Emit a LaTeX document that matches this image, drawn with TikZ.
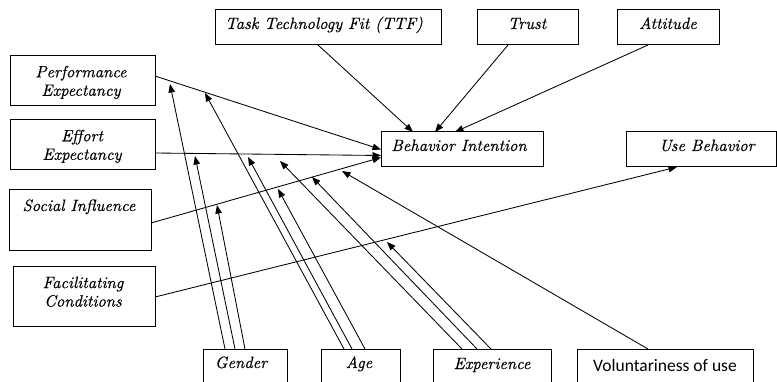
\documentclass[tikz,border=0pt]{standalone}
\usepackage{fontspec}
\newfontfamily\lmten{lmroman10}[Extension=.otf, UprightFont=*-regular, ItalicFont=*-italic, BoldFont=*-bold, ItalicFeatures={FakeBold=0.4}]
\newfontfamily\volfont{Carlito}
\usetikzlibrary{arrows.meta,calc}
\begin{document}
\begin{tikzpicture}[x=1pt,y=-1pt,
  box/.style={draw, line width=1pt, anchor=north west, inner sep=0pt, outer sep=0pt},
  lbl/.style={font=\fontsize{16.4}{18.5}\selectfont\lmten\itshape, inner sep=0pt, anchor=base},
  lbltwo/.style={font=\fontsize{16.4}{18.5}\selectfont\lmten\itshape, inner sep=0pt, align=center, anchor=north},
  conn/.style={line width=0.85pt, -{Triangle[length=8.5pt,width=6.5pt]}}]
\path[use as bounding box] (0,0) rectangle (777,382);
\clip (0,0) rectangle (777,382);

% boxes
\node[box, minimum width=226pt, minimum height=35pt] (ttf) at (215,10) {};
\node[box, minimum width=101pt, minimum height=35pt] (trust) at (477,10) {};
\node[box, minimum width=102pt, minimum height=35pt] (att) at (617,10) {};
\node[box, minimum width=145pt, minimum height=50pt] (pe) at (10,56) {};
\node[box, minimum width=145pt, minimum height=50pt] (ee) at (10,120) {};
\node[box, minimum width=142pt, minimum height=61pt] (si) at (9,190) {};
\node[box, minimum width=142pt, minimum height=60pt] (fc) at (13,267) {};
\node[box, minimum width=162pt, minimum height=35pt] (bi) at (381,132) {};
\node[box, minimum width=150pt, minimum height=35pt] (ub) at (626,132) {};
\node[box, minimum width=84pt, minimum height=50pt] (gen) at (203,349) {};
\node[box, minimum width=79pt, minimum height=50pt] (age) at (321,349) {};
\node[box, minimum width=118pt, minimum height=50pt] (exp) at (433,349) {};
\node[box, minimum width=176pt, minimum height=50pt] (vol) at (577,349) {};

% labels
\node[lbl] (tttf) at (324,29) {Task Technology Fit (TTF)};
\node[lbl] (ttrust) at (527,29) {Trust};
\node[lbl] (tatt) at (668,29) {Attitude};
\node[lbltwo] (tpe) at (81,65.5) {Performance\\Expectancy};
\node[lbltwo] (tee) at (82,129.5) {Effort\\Expectancy};
\node[lbl] (tsi) at (79,211) {Social Influence};
\node[lbltwo] (tfc) at (83,276.5) {Facilitating\\Conditions};
\node[lbl] (tbi) at (459,151) {Behavior Intention};
\node[lbl] (tub) at (707,151) {Use Behavior};
\node[lbl] (tgen) at (241,368) {Gender};
\node[lbl] (tage) at (359,368) {Age};
\node[lbl] (texp) at (492,369) {Experience};
\node[lbl, font=\fontsize{17.5}{20}\selectfont\volfont] (tvol) at (665,371) {Voluntariness of use};

% main connectors
\draw[conn] ([yshift=5pt]pe.east) -- (bi.west);
\draw[conn] ([yshift=-8pt]ee.east) -- ([yshift=-6pt]bi.west);
\draw[conn] ([yshift=-2.5pt]si.east) -- ([yshift=-8pt]bi.west);
\draw[conn] (fc.east) -- ([xshift=-24pt]ub.south);
\draw[conn] ([xshift=-10pt]ttf.south) -- ([xshift=-49pt]bi.north);
\draw[conn] ([xshift=-19.5pt]trust.south) -- ([xshift=-27pt]bi.north);
\draw[conn] ([xshift=-20pt]att.south) -- ([xshift=-7pt]bi.north);

% moderator targets
\coordinate (g1) at (170,84);
\coordinate (g2) at (195,156);
\coordinate (g3) at (217,205);
\coordinate (a1) at (205,93);
\coordinate (a2) at (248,157);
\coordinate (a3) at (278,189);
\coordinate (x1) at (280,161);
\coordinate (x2) at (312,177);
\coordinate (x3) at (387,242);
\coordinate (v1) at (342,171);

% moderators
\draw[conn] ([xshift=-20pt]gen.north) -- (g1);
\draw[conn] ([xshift=-10pt]gen.north) -- (g2);
\draw[conn] (gen.north) -- (g3);
\draw[conn] ([xshift=-16.5pt]age.north) -- (a1);
\draw[conn] ([xshift=-8.5pt]age.north) -- (a2);
\draw[conn] ([xshift=4.5pt]age.north) -- (a3);
\draw[conn] ([xshift=-30pt]exp.north) -- (x1);
\draw[conn] ([xshift=-15pt]exp.north) -- (x2);
\draw[conn] ([xshift=-1pt]exp.north) -- (x3);
\draw[conn] ([xshift=-17pt]vol.north) -- (v1);
\end{tikzpicture}
\end{document}
